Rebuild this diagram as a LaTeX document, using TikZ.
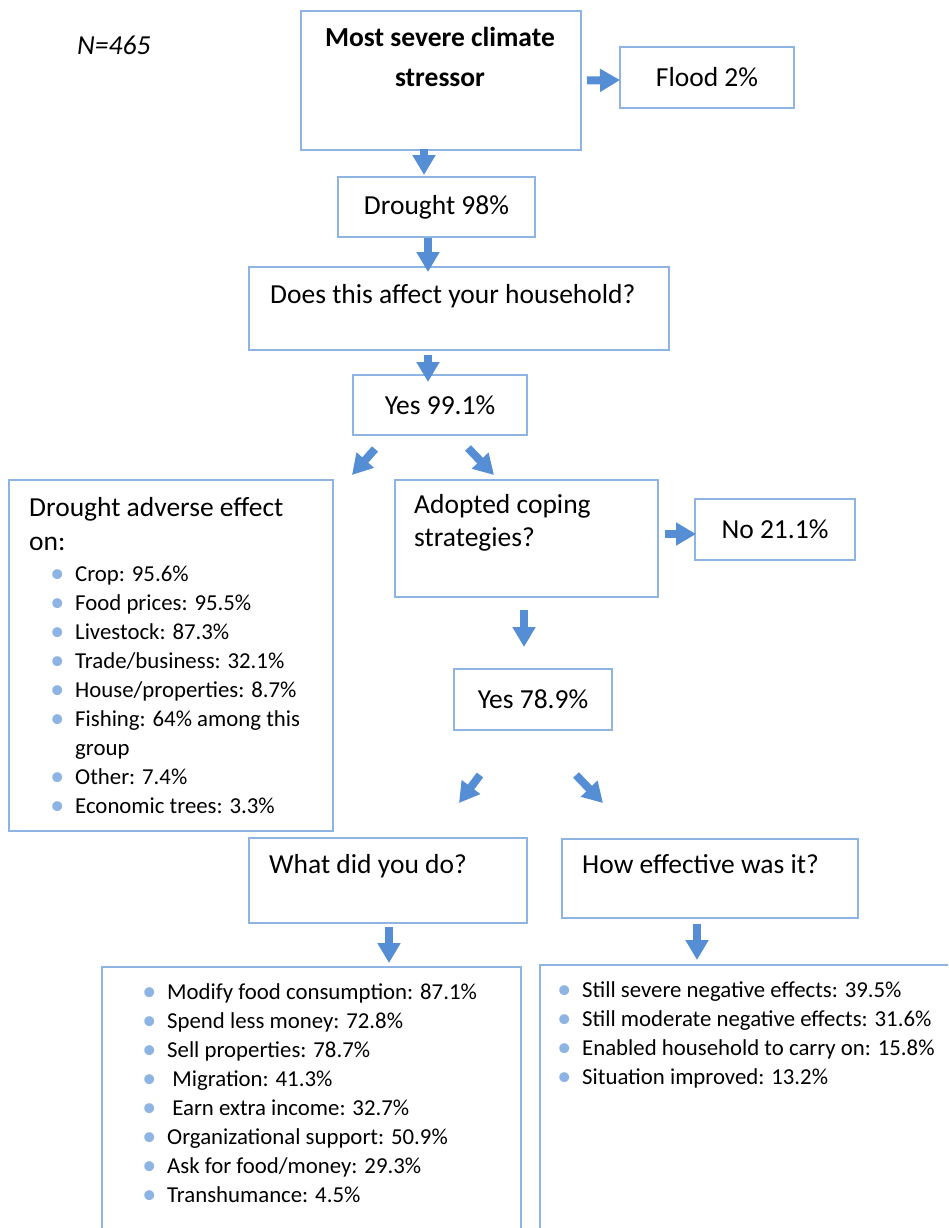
\documentclass[tikz,border=0pt]{standalone}
\usepackage{fontspec}
\setmainfont{Carlito}
\usetikzlibrary{arrows.meta, positioning}
\definecolor{boxblue}{HTML}{8EB4E3}
\definecolor{arrowblue}{HTML}{558ED5}
\definecolor{dotblue}{HTML}{8EB4E3}
\tikzstyle{frame} = [rectangle, draw=boxblue, line width=2pt, inner sep=0pt, anchor=north west, font=\fontsize{27.5}{33}\selectfont]
\tikzstyle{head} = [inner sep=0pt, align=left, anchor=base west, font=\fontsize{27.5}{33}\selectfont]
\tikzstyle{items} = [inner sep=0pt, align=left, anchor=base west, font=\fontsize{22.8}{29}\selectfont]
\tikzstyle{arrow} = [draw=arrowblue, line width=8pt, -{Triangle[length=20pt,width=22pt]}]
\newcommand{\bul}{\llap{\raisebox{-1.5pt}{\fontsize{28}{29}\selectfont\textcolor{dotblue}{\textbullet}}\hspace{11pt}}}

\begin{document}
\begin{tikzpicture}[x=1pt, y=-1pt]
    \clip (0,0) rectangle (948,1228);
    % multi-line texts are placed at the baseline of their last line
    \node (sample) [head, font=\fontsize{27.5}{33}\selectfont\itshape] at (77,55) {N=465};

    \node (stressor) [frame, minimum width=280, minimum height=139] at (300,10) {};
    \node (stressor_txt) [align=center, anchor=base, inner sep=0pt, font=\fontsize{27.5}{40}\selectfont\bfseries] at (440,87) {Most severe climate\\stressor};
    \node (flood) [frame, minimum width=174, minimum height=61] at (619,46) {Flood 2\%};
    \node (drought) [frame, minimum width=197, minimum height=60] at (337,176) {Drought 98\%};
    \node (does) [frame, minimum width=420, minimum height=83] at (248,266) {};
    \node (does_txt) [head] at (270,303) {Does this affect your household?};
    \node (yes_affect) [frame, minimum width=174, minimum height=60] at (352,374) {Yes 99.1\%};

    \node (effects) [frame, minimum width=324, minimum height=351] at (8,479) {};
    \node (effects_txt) [head, font=\fontsize{27.5}{34}\selectfont] at (29,550) {Drought adverse effect\\on:};
    \node (effects_list) [items] at (75,813) {\bul Crop: 95.6\%\\
        \bul Food prices: 95.5\%\\
        \bul Livestock: 87.3\%\\
        \bul Trade/business: 32.1\%\\
        \bul House/properties: 8.7\%\\
        \bul Fishing: 64\% among this\\
        group\\
        \bul Other: 7.4\%\\
        \bul Economic trees: 3.3\%};

    \node (adopted) [frame, minimum width=263, minimum height=117] at (394,479) {};
    \node (adopted_txt) [head] at (414,546) {Adopted coping\\strategies?};
    \node (no_adopt) [frame, minimum width=160, minimum height=61] at (694,498) {No 21.1\%};
    \node (yes_adopt) [frame, minimum width=158, minimum height=61] at (453,668) {Yes 78.9\%};

    \node (what) [frame, minimum width=278, minimum height=85] at (248,837) {};
    \node (what_txt) [head] at (269,873) {What did you do?};
    \node (how) [frame, minimum width=296, minimum height=79] at (561,838) {};
    \node (how_txt) [head] at (582,873) {How effective was it?};

    \node (actions) [frame, minimum width=419, minimum height=300] at (101,966) {};
    \node (actions_list) [items] at (167,1202) {\bul Modify food consumption: 87.1\%\\
        \bul Spend less money: 72.8\%\\
        \bul Sell properties: 78.7\%\\
        \bul \ Migration: 41.3\%\\
        \bul \ Earn extra income: 32.7\%\\
        \bul Organizational support: 50.9\%\\
        \bul Ask for food/money: 29.3\%\\
        \bul Transhumance: 4.5\%};
    \node (outcomes) [frame, minimum width=421, minimum height=300] at (539,964) {};
    \node (outcomes_list) [items] at (582,1084) {\bul Still severe negative effects: 39.5\%\\
        \bul Still moderate negative effects: 31.6\%\\
        \bul Enabled household to carry on: 15.8\%\\
        \bul Situation improved: 13.2\%};

    \draw [arrow] ([shift={(5,0)}]stressor.east) -- ([shift={(1,2.5)}]flood.west);
    \draw [arrow] ([shift={(-17,-2)}]stressor.south) -- ([shift={(-12.5,-1)}]drought.north);
    \draw [arrow] ([shift={(-8.5,0)}]drought.south) -- ([shift={(-31,6)}]does.north);
    \draw [arrow] ([shift={(-31,4)}]does.south) -- ([shift={(-12,8)}]yes_affect.north);
    \draw [arrow] ([shift={(23,13)}]yes_affect.south west) -- ([shift={(18,-4)}]effects.north east);
    \draw [arrow] ([shift={(-60,12)}]yes_affect.south east) -- ([shift={(100,-4)}]adopted.north west);
    \draw [arrow] ([shift={(6,-4.5)}]adopted.east) -- ([shift={(2,4.5)}]no_adopt.west);
    \draw [arrow] ([shift={(-2.5,12)}]adopted.south) -- ([shift={(-9,-21)}]yes_adopt.north);
    \draw [arrow] ([shift={(27,44)}]yes_adopt.south west) -- ([shift={(-69,-34)}]what.north east);
    \draw [arrow] ([shift={(-37,44)}]yes_adopt.south east) -- ([shift={(42,-35)}]how.north west);
    \draw [arrow] ([shift={(1,3)}]what.south) -- ([shift={(77.5,-3)}]actions.north);
    \draw [arrow] ([shift={(-13,5)}]how.south) -- ([shift={(-53.5,-4)}]outcomes.north);
\end{tikzpicture}
\end{document}
